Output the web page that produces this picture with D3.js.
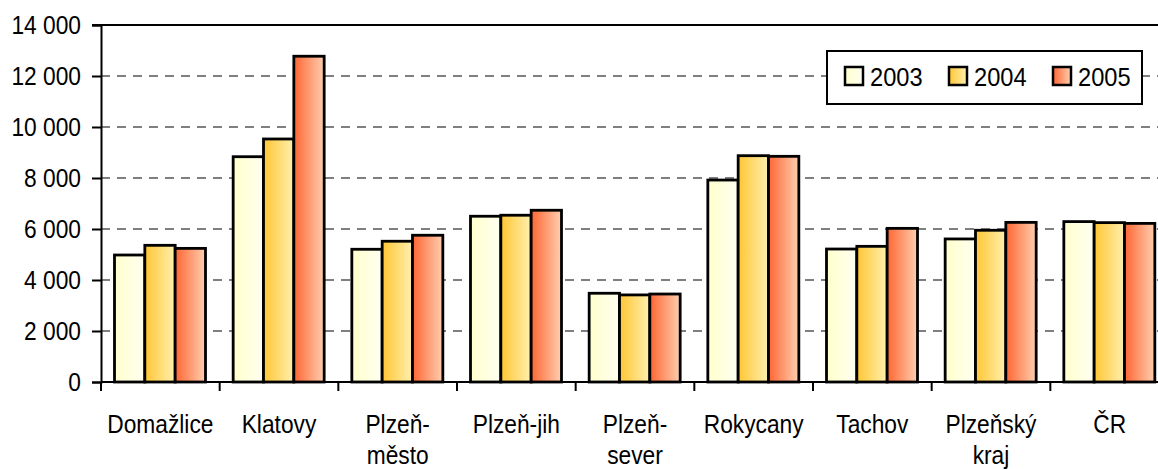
<!DOCTYPE html>
<html>
<head>
<meta charset="utf-8">
<script src="https://cdn.jsdelivr.net/npm/d3@7"></script>
<style>
  body { margin: 0; background: #fff; }
  text { font-family: "Liberation Sans", Arial, sans-serif; fill: #000; }
</style>
</head>
<body>
<div id="chart"></div>
<script>
var categories = ["Domažlice", "Klatovy", "Plzeň-město", "Plzeň-jih", "Plzeň-sever", "Rokycany", "Tachov", "Plzeňský kraj", "ČR"];
var labelLines = [["Domažlice"], ["Klatovy"], ["Plzeň-", "město"], ["Plzeň-jih"], ["Plzeň-", "sever"], ["Rokycany"], ["Tachov"], ["Plzeňský", "kraj"], ["ČR"]];
var years = ["2003", "2004", "2005"];
var v2003 = [4980, 8835, 5205, 6500, 3480, 7920, 5215, 5610, 6290];
var v2004 = [5360, 9530, 5520, 6540, 3415, 8875, 5320, 5950, 6250];
var v2005 = [5240, 12775, 5755, 6735, 3450, 8850, 6025, 6260, 6220];
var yTicks = [0, 2000, 4000, 6000, 8000, 10000, 12000, 14000];

var series = [v2003, v2004, v2005];
var gradStops = [["#ffffcc", "#fffff2"], ["#ffc633", "#fff0b0"], ["#ff6633", "#ffcfb0"]];

var width = 1158, height = 470;
var squeeze = 0.91; // the original text is a bit narrower than Arial
var fontSize = "25px";

var svg = d3.select("#chart").append("svg")
    .attr("width", width)
    .attr("height", height);

var defs = svg.append("defs");
gradStops.forEach(function(s, i) {
    var g = defs.append("linearGradient")
        .attr("id", "grad" + i)
        .attr("x1", 0).attr("x2", 1).attr("y1", 0).attr("y2", 0);
    g.append("stop").attr("offset", "0%").attr("stop-color", s[0]);
    g.append("stop").attr("offset", "100%").attr("stop-color", s[1]);
});

// plot area runs past the right edge of the picture
var x0 = d3.scaleBand().domain(categories).range([101, 1169]);
var x1 = d3.scaleBand().domain(years).range([13.5, 104.5]);
var y = d3.scaleLinear().domain([0, 14000]).range([382, 25]);

var fmt = function(d) { return d3.format(",")(d).replace(",", " "); };

// gridlines
svg.append("g")
    .selectAll("line")
    .data(yTicks.filter(function(d) { return d > 0 && d < 14000; }))
    .enter().append("line")
    .attr("x1", 101).attr("x2", width)
    .attr("y1", function(d) { return y(d); })
    .attr("y2", function(d) { return y(d); })
    .attr("stroke", "#555")
    .attr("stroke-width", 1.3)
    .attr("stroke-dasharray", "9,7");

svg.append("line")
    .attr("x1", 92).attr("x2", width)
    .attr("y1", y(14000)).attr("y2", y(14000))
    .attr("stroke", "#000").attr("stroke-width", 2);

// bars
var groups = svg.append("g")
    .selectAll("g")
    .data(categories)
    .enter().append("g")
    .attr("transform", function(d) { return "translate(" + x0(d) + ",0)"; });

groups.selectAll("rect")
    .data(function(d, i) { return series.map(function(s, k) { return { year: years[k], k: k, v: s[i] }; }); })
    .enter().append("rect")
    .attr("x", function(d) { return x1(d.year); })
    .attr("width", x1.bandwidth())
    .attr("y", function(d) { return y(d.v); })
    .attr("height", function(d) { return y(0) - y(d.v); })
    .attr("fill", function(d) { return "url(#grad" + d.k + ")"; })
    .attr("stroke", "#000")
    .attr("stroke-width", 2.8);

// y axis
var yAxis = svg.append("g")
    .attr("transform", "translate(101,0)")
    .call(d3.axisLeft(y).tickValues(yTicks).tickSize(9).tickPadding(10).tickFormat(fmt));
yAxis.select(".domain").attr("stroke", "#000").attr("stroke-width", 2);
yAxis.selectAll(".tick line").attr("stroke", "#000").attr("stroke-width", 2);
yAxis.selectAll("text")
    .style("font-size", fontSize)
    .style("font-family", "'Liberation Sans', Arial, sans-serif")
    .attr("fill", "#000")
    .attr("x", -20 / squeeze)
    .attr("transform", "scale(" + squeeze + ",1)");

// x axis
svg.append("line")
    .attr("x1", 101).attr("x2", width)
    .attr("y1", y(0)).attr("y2", y(0))
    .attr("stroke", "#000").attr("stroke-width", 2);

svg.append("g")
    .selectAll("line")
    .data(categories)
    .enter().append("line")
    .attr("x1", function(d) { return x0(d); })
    .attr("x2", function(d) { return x0(d); })
    .attr("y1", y(0)).attr("y2", y(0) + 9)
    .attr("stroke", "#000").attr("stroke-width", 2);

var labels = svg.append("g")
    .attr("transform", "scale(" + squeeze + ",1)")
    .selectAll("text")
    .data(categories)
    .enter().append("text")
    .attr("text-anchor", "middle")
    .style("font-size", fontSize)
    .attr("x", function(d) { return (x0(d) + x0.bandwidth() / 2) / squeeze; })
    .attr("y", 433);

labels.selectAll("tspan")
    .data(function(d, i) { return labelLines[i]; })
    .enter().append("tspan")
    .attr("x", function() { return this.parentNode.getAttribute("x"); })
    .attr("dy", function(d, j) { return j === 0 ? 0 : 31; })
    .text(function(d) { return d; });

// legend
var legend = svg.append("g");
legend.append("rect")
    .attr("x", 827).attr("y", 51)
    .attr("width", 315).attr("height", 53)
    .attr("fill", "#fff")
    .attr("stroke", "#000").attr("stroke-width", 2);

var items = legend.selectAll("g")
    .data(years)
    .enter().append("g")
    .attr("transform", function(d, i) { return "translate(" + (845 + i * 104) + ",67)"; });

items.append("rect")
    .attr("width", 18).attr("height", 18)
    .attr("fill", function(d, i) { return "url(#grad" + i + ")"; })
    .attr("stroke", "#000").attr("stroke-width", 2.5);

items.append("text")
    .attr("transform", "scale(" + squeeze + ",1)")
    .attr("x", 25 / squeeze).attr("y", 19)
    .style("font-size", "26px")
    .text(function(d) { return d; });
</script>
</body>
</html>
